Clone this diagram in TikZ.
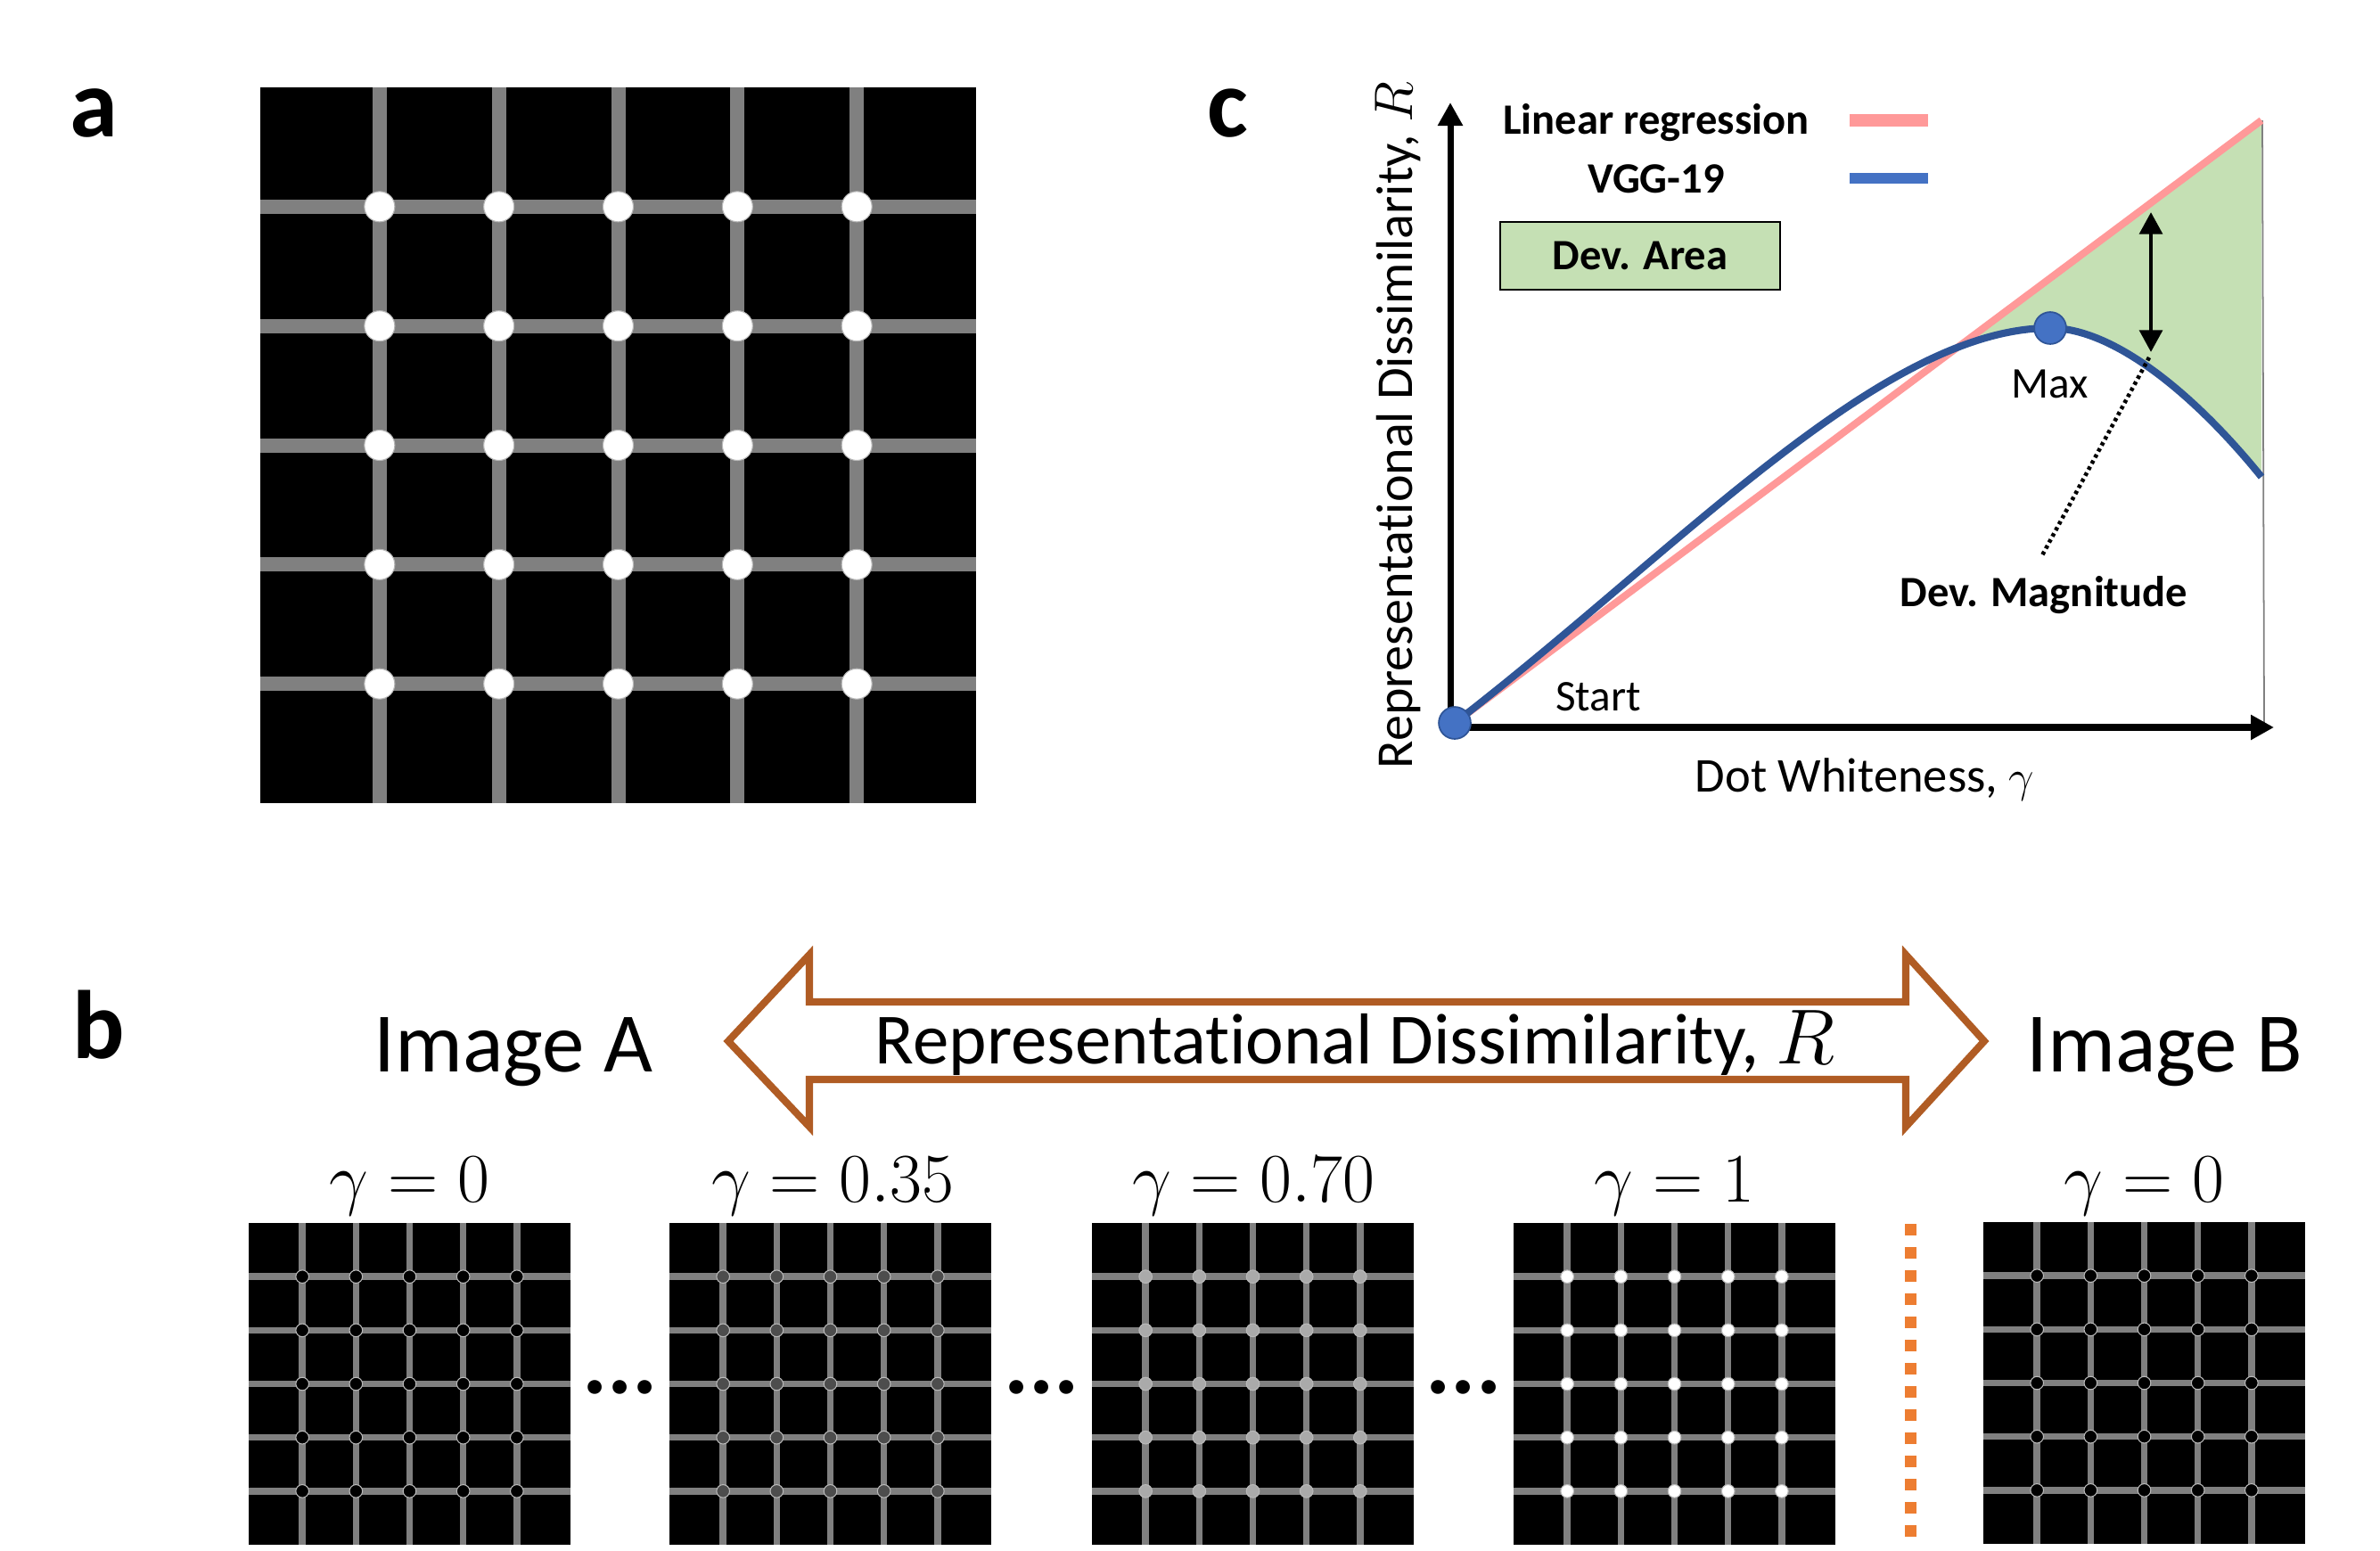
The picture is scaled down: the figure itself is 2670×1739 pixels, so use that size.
\documentclass[tikz,border=0pt]{standalone}
\usepackage{fontspec}
\setmainfont{Carlito}[Ligatures={NoCommon}]
\usetikzlibrary{arrows.meta}

\definecolor{gridgray}{RGB}{128,128,128}
\definecolor{ringgray}{RGB}{185,185,185}
\definecolor{redline}{RGB}{255,153,153}
\definecolor{bluecurve}{RGB}{47,85,151}
\definecolor{bluedot}{RGB}{68,114,196}
\definecolor{greenfill}{RGB}{197,224,180}
\definecolor{brownarrow}{RGB}{176,92,36}
\definecolor{orangedash}{RGB}{237,125,49}
\definecolor{dotdark}{RGB}{77,77,77}
\definecolor{dotlight}{RGB}{170,170,170}

% #1 x0, #2 y0, #3 size, #4 line width, #5 dot radius, #6 dot colour
\newcommand{\herogrid}[6]{%
  \begin{scope}[shift={(#1,#2)}]
    \fill[black] (0,0) rectangle (#3,#3);
    \foreach \i in {1,...,5}{
      \fill[gridgray] ({\i*#3/6-#4/2},0) rectangle ({\i*#3/6+#4/2},#3);
      \fill[gridgray] (0,{\i*#3/6-#4/2}) rectangle (#3,{\i*#3/6+#4/2});
    }
    \foreach \i in {1,...,5}{
      \foreach \j in {1,...,5}{
        \filldraw[fill=#6, draw=ringgray, line width=0.3pt] ({\i*#3/6},{\j*#3/6}) circle (#5);
      }
    }
  \end{scope}}

\tikzset{
  panellbl/.style={inner sep=0pt, anchor=base, font=\fontsize{31}{36}\selectfont\bfseries},
  lbl/.style={inner sep=0pt, anchor=base, font=\fontsize{14}{16}\selectfont},
  boldlbl/.style={inner sep=0pt, anchor=base, font=\fontsize{13.8}{16}\selectfont\bfseries},
  axislbl/.style={inner sep=0pt, anchor=base, font=\fontsize{15.5}{18}\selectfont},
  biglbl/.style={inner sep=0pt, anchor=base, font=\fontsize{27}{31}\selectfont},
  arrowlbl/.style={inner sep=0pt, anchor=base, font=\fontsize{23}{27}\selectfont},
  gammalbl/.style={inner sep=0pt, anchor=base, scale=1.07, font=\fontsize{20.74}{25}\selectfont},
  ellipsislbl/.style={inner sep=0pt, anchor=base, font=\fontsize{30}{34}\selectfont\bfseries},
  axisline/.style={line width=2pt, -{Triangle[length=7.4pt,width=7.6pt]}},
  dotc/.style={circle, fill=bluedot, draw=bluecurve, line width=0.5pt, minimum size=10.2pt, inner sep=0pt},
  curve/.style={line width=2.3pt},
}

\begin{document}
\begin{tikzpicture}[x=0.01cm, y=-0.01cm]
\useasboundingbox (0,0) rectangle (2670,1739);

% ---------- panel labels ----------
\node[panellbl] (la) at (105,153) {a};
\node[panellbl] (lb) at (111,1187) {b};
\node[panellbl] (lc) at (1377,153) {c};

% ---------- panel a ----------
\herogrid{292}{98}{803}{16}{17}{white}

% ---------- panel c ----------
\coordinate (O) at (1632,811);
\coordinate (Rtop) at (2537,135);
\coordinate (Bend) at (2537,535);
\coordinate (Pk) at (2300,368);

\begin{scope}
  \clip (O) -- (Rtop) -- (2537,830) -- (1600,830) -- cycle;
  \fill[greenfill] (O) .. controls (1880,620) and (2110,368) .. (Pk)
        .. controls (2370,368) and (2460,440) .. (Bend) -- (2537,50) -- (1600,50) -- cycle;
\end{scope}
\draw[gray, line width=0.5pt] (2538,135) -- (2540,816);

\draw[axisline] (1627,819) -- (1627,115);
\draw[axisline] (1625,816) -- (2551,816);

\draw[curve, redline] (O) -- (Rtop);
\draw[curve, bluecurve] (O) .. controls (1880,620) and (2110,368) .. (Pk)
      .. controls (2370,368) and (2460,440) .. (Bend);

\node[dotc] (startdot) at (O) {};
\node[dotc] (maxdot) at (Pk) {};

\coordinate (dmTop) at (2413,238);
\coordinate (dmBot) at (2413,395);
\coordinate (dmEnd) at (2291,623);
\draw[line width=1.4pt, {Triangle[length=7pt,width=7.2pt]}-{Triangle[length=7pt,width=7.2pt]}] (dmTop) -- (dmBot);
\draw[line width=1.3pt, dash pattern=on 1.1pt off 1.1pt] (2411,401) -- (dmEnd);

% legend
\node[boldlbl] (lr) at (1858,150) {Linear regression};
\node[boldlbl] (vgg) at (1858,216) {VGG-19};
\coordinate (lrA) at (2075,135);
\coordinate (lrB) at (2163,135);
\coordinate (vgA) at (2075,200);
\coordinate (vgB) at (2163,200);
\draw[redline, line width=3.7pt] (lrA) -- (lrB);
\draw[bluedot, line width=3.5pt] (vgA) -- (vgB);
\node[draw, fill=greenfill, line width=0.6pt, minimum width=3.13cm, minimum height=0.76cm,
      inner sep=0pt, font=\fontsize{13.8}{16}\selectfont\bfseries] (devarea) at (1840,287) {Dev. Area};

\node[lbl] (start) at (1793,797) {Start};
\node[lbl] (maxlbl) at (2300,446) {Max};
\node[boldlbl] (devmag) at (2293,680) {Dev. Magnitude};
\node[axislbl] (xlbl) at (2092,888) {Dot Whiteness, $\gamma$};
\node[inner sep=0pt, anchor=base, rotate=90, font=\fontsize{16.5}{19}\selectfont] (ylbl) at (1584,477) {Representational Dissimilarity, $R$};

% ---------- panel b ----------
\node[biglbl] (imgA) at (576,1202) {Image A};
\node[biglbl] (imgB) at (2428,1202) {Image B};

\draw[brownarrow, line width=2.3pt, fill=white, line join=miter]
  (817,1168) -- (908,1071) -- (908,1124) -- (2138,1124) -- (2138,1071) -- (2226,1168)
  -- (2138,1264) -- (2138,1211) -- (908,1211) -- (908,1264) -- cycle;
\node[arrowlbl] (rd) at (1520,1193) {Representational Dissimilarity, $R$};

\node[gammalbl] (g1) at (459.5,1348) {$\gamma = 0$};
\node[gammalbl] (g2) at (934,1348) {$\gamma = 0.35$};
\node[gammalbl] (g3) at (1406,1348) {$\gamma = 0.70$};
\node[gammalbl] (g4) at (1878.5,1348) {$\gamma = 1$};
\node[gammalbl] (g5) at (2405.5,1348) {$\gamma = 0$};

\herogrid{279}{1372}{361}{7.5}{7.3}{black}
\herogrid{751}{1372}{361}{7.5}{7.3}{dotdark}
\herogrid{1225}{1372}{361}{7.5}{7.3}{dotlight}
\herogrid{1698}{1372}{361}{7.5}{7.3}{white}
\herogrid{2225}{1371}{361}{7.5}{7.3}{black}

\node[ellipsislbl] (e1) at (695.5,1563) {...};
\node[ellipsislbl] (e2) at (1168.5,1563) {...};
\node[ellipsislbl] (e3) at (1642,1563) {...};

\coordinate (sepTop) at (2143.5,1373);
\coordinate (sepBot) at (2143.5,1724);
\draw[orangedash, line width=3.7pt, dash pattern=on 3.7pt off 3.7pt] (sepTop) -- (sepBot);
\end{tikzpicture}
\end{document}
